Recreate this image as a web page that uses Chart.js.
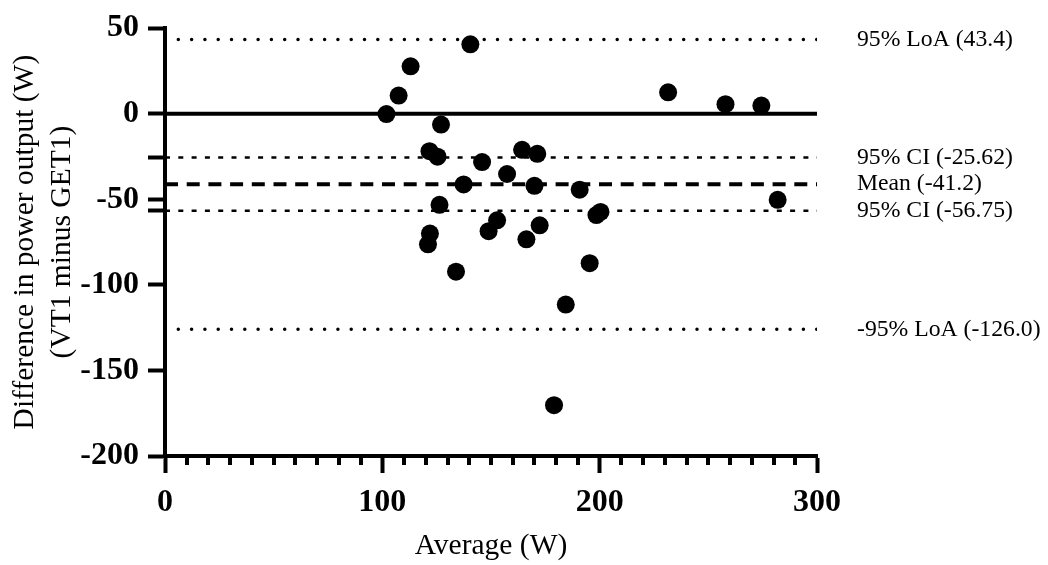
<!DOCTYPE html>
<html>
<head>
<meta charset="utf-8">
<script src="https://cdn.jsdelivr.net/npm/chart.js@4/dist/chart.umd.min.js"></script>
<style>
  body { margin: 0; background: #fff; }
</style>
</head>
<body>
<canvas id="chart" width="1048" height="565"></canvas>
<script>
// Bland-Altman: VT1 vs GET1
const averages = [140.5, 113.0, 107.5, 101.9, 127.0, 121.7, 125.4, 145.9, 164.3, 171.3, 157.4, 137.4, 170.0, 190.8, 126.3, 200.4, 198.5, 152.8, 148.9, 172.4, 121.9, 121.0, 166.3, 133.9, 195.4, 184.4, 179.0, 231.5, 257.9, 274.4, 281.9];
const differences = [40.6, 27.7, 10.6, -0.2, -6.3, -21.9, -25.1, -28.2, -21.1, -23.4, -35.2, -41.3, -42.1, -44.4, -53.2, -57.4, -59.2, -62.3, -68.6, -65.2, -70.0, -76.3, -73.4, -92.3, -87.3, -111.5, -170.3, 12.5, 5.6, 4.8, -50.3];

const upperLoA = 43.4;
const lowerLoA = -126.0;
const meanDiff = -41.2;
const upperCI = -25.62;
const lowerCI = -56.75;

const refValues = [upperLoA, upperCI, meanDiff, lowerCI, lowerLoA];
const refLabels = ["95% LoA (43.4)", "95% CI (-25.62)", "Mean (-41.2)", "95% CI (-56.75)", "-95% LoA (-126.0)"];

const yTicks = [50, 0, upperCI, -50, lowerCI, -100, -150, -200];
const xMin = 0;
const xMax = 300;

const serif = "'Liberation Serif', 'Times New Roman', serif";

function hline(v) {
  return [{ x: xMin, y: v }, { x: xMax, y: v }];
}

const points = averages.map((a, i) => ({ x: a, y: differences[i] }));

// labels at the right of the reference lines + minor x ticks
const extras = {
  id: "extras",
  afterDraw(chart) {
    const ctx = chart.ctx;
    const xs = chart.scales.x;
    const ys = chart.scales.y;
    ctx.save();
    ctx.strokeStyle = "#000";
    ctx.lineWidth = 4;
    for (let v = 10; v < xMax; v += 10) {
      if (v % 100 === 0) continue;
      const px = Math.round(xs.getPixelForValue(v));
      ctx.beginPath();
      ctx.moveTo(px, xs.top);
      ctx.lineTo(px, xs.top + 9);
      ctx.stroke();
    }
    ctx.fillStyle = "#000";
    ctx.font = "23.7px " + serif;
    ctx.textAlign = "left";
    ctx.textBaseline = "middle";
    for (let i = 0; i < refValues.length; i++) {
      ctx.fillText(refLabels[i], 857, ys.getPixelForValue(refValues[i]));
    }
    ctx.restore();
  },
};

new Chart(document.getElementById("chart").getContext("2d"), {
  type: "scatter",
  data: {
    datasets: [
      {
        label: "Difference",
        data: points,
        backgroundColor: "#000",
        borderWidth: 0,
        pointRadius: 9,
        order: 0,
      },
      {
        label: "zero",
        type: "line",
        data: hline(0),
        borderColor: "#000",
        borderWidth: 4,
        pointRadius: 0,
        order: 1,
      },
      {
        label: "upper LoA",
        type: "line",
        data: hline(upperLoA),
        borderColor: "#000",
        borderWidth: 3.5,
        borderDash: [0, 13.3],
        borderCapStyle: "round",
        pointRadius: 0,
        order: 1,
      },
      {
        label: "lower LoA",
        type: "line",
        data: hline(lowerLoA),
        borderColor: "#000",
        borderWidth: 3.5,
        borderDash: [0, 13.3],
        borderCapStyle: "round",
        pointRadius: 0,
        order: 1,
      },
      {
        label: "upper CI",
        type: "line",
        data: hline(upperCI),
        borderColor: "#000",
        borderWidth: 2.5,
        borderDash: [5, 8.3],
        pointRadius: 0,
        order: 1,
      },
      {
        label: "lower CI",
        type: "line",
        data: hline(lowerCI),
        borderColor: "#000",
        borderWidth: 2.5,
        borderDash: [5, 8.3],
        pointRadius: 0,
        order: 1,
      },
      {
        label: "mean",
        type: "line",
        data: hline(meanDiff),
        borderColor: "#000",
        borderWidth: 4,
        borderDash: [13, 8.7],
        pointRadius: 0,
        order: 1,
      },
    ],
  },
  options: {
    responsive: false,
    animation: false,
    devicePixelRatio: 1,
    layout: { padding: { left: 0, top: 22, right: 231, bottom: 0 } },
    plugins: {
      legend: { display: false },
      tooltip: { enabled: false },
    },
    scales: {
      x: {
        type: "linear",
        min: xMin,
        max: xMax,
        afterFit(scale) {
          scale.height = 109;
        },
        ticks: {
          stepSize: 100,
          color: "#000",
          padding: 11,
          font: { family: serif, size: 32, weight: "bold" },
        },
        grid: {
          drawOnChartArea: false,
          tickLength: 17,
          tickWidth: 4,
          tickColor: "#000",
        },
        border: { display: true, width: 4, color: "#000" },
        title: {
          display: true,
          text: "Average (W)",
          color: "#000",
          padding: { top: 0, bottom: 1 },
          font: { family: serif, size: 29.5 },
        },
      },
      y: {
        type: "linear",
        min: -200,
        max: 50,
        afterFit(scale) {
          scale.width = 165;
        },
        afterBuildTicks(scale) {
          scale.ticks = yTicks.map((v) => ({ value: v }));
        },
        ticks: {
          autoSkip: false,
          color: "#000",
          padding: 9,
          font: { family: serif, size: 32, weight: "bold" },
          callback: (v) => (v % 50 === 0 ? String(v) : ""),
        },
        grid: {
          drawOnChartArea: false,
          tickLength: 17,
          tickWidth: 4,
          tickColor: "#000",
        },
        border: { display: true, width: 4, color: "#000" },
        title: {
          display: true,
          text: ["Difference in power output (W)", "(VT1 minus GET1)"],
          color: "#000",
          padding: { top: 7, bottom: 0 },
          font: { family: serif, size: 29.5, lineHeight: "37px" },
        },
      },
    },
  },
  plugins: [extras],
});
</script>
</body>
</html>
